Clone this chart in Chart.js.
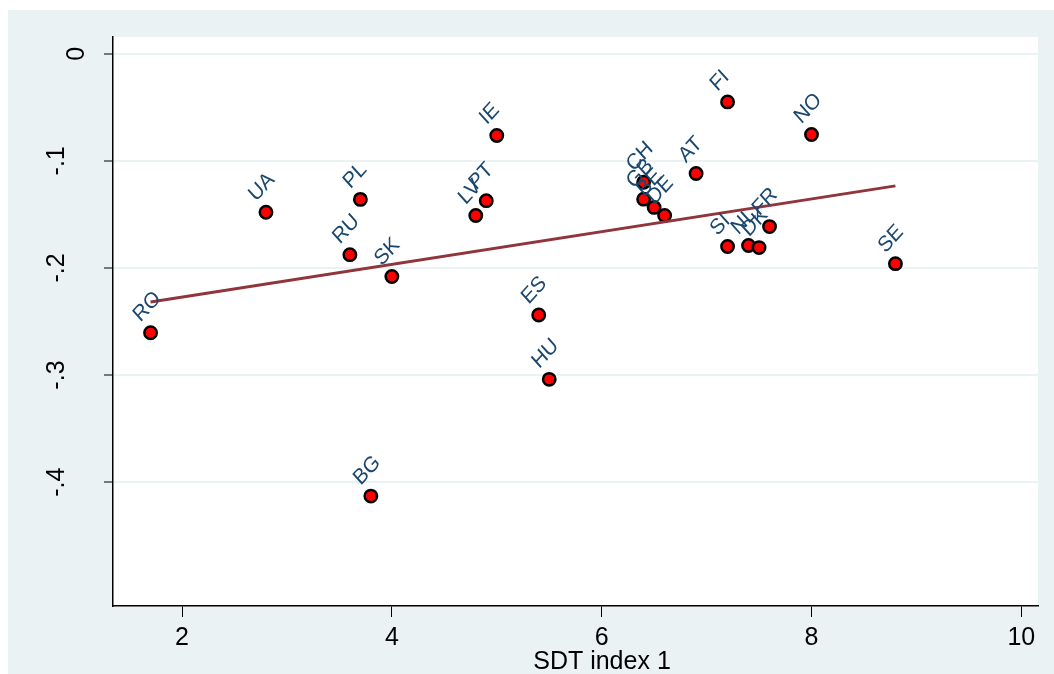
<!DOCTYPE html>
<html>
<head>
<meta charset="utf-8">
<script src="https://cdn.jsdelivr.net/npm/chart.js@4"></script>
<style>html,body{margin:0;padding:0;background:#fff;}canvas{display:block;}</style>
</head>
<body>
<canvas id="c" width="1054" height="674"></canvas>
<script>
const countries = ['RO','UA','PL','RU','SK','BG','LV','PT','IE','ES','HU','CH','GB','BE','DE','AT','FI','NO','SI','NL','DK','FR','SE'];
const sdtIndex = [1.7,2.8,3.7,3.6,4.0,3.8,4.8,4.9,5.0,5.4,5.5,6.4,6.4,6.5,6.6,6.9,7.2,8.0,7.2,7.4,7.5,7.6,8.8];
const outcome = [-0.2605,-0.148,-0.136,-0.1876,-0.208,-0.413,-0.151,-0.1372,-0.0764,-0.244,-0.304,-0.120,-0.1358,-0.1435,-0.151,-0.1119,-0.045,-0.0754,-0.180,-0.179,-0.181,-0.1614,-0.196];
const fitX = [1.7, 8.8];
const fitY = [-0.2318, -0.1234];
const xTicks = [2,4,6,8,10];
const yTicks = [0,-0.1,-0.2,-0.3,-0.4];
const yTickLabels = ['0','-.1','-.2','-.3','-.4'];
const xTitle = 'SDT index 1';

const NAVY = '#1a476f';
const BG = '#EAF2F3';

const deco = {
  id: 'deco',
  beforeDraw(chart) {
    const ctx = chart.ctx, a = chart.chartArea;
    ctx.save();
    ctx.fillStyle = '#fff';
    ctx.fillRect(0, 0, chart.width, chart.height);
    ctx.fillStyle = BG;
    ctx.fillRect(8, 10, chart.width - 8, chart.height - 10);
    ctx.fillStyle = '#fff';
    ctx.fillRect(a.left, a.top, a.right - a.left, a.bottom - a.top);
    ctx.restore();
  },
  afterDraw(chart) {
    const ctx = chart.ctx, xs = chart.scales.x, ys = chart.scales.y;
    ctx.save();
    ctx.fillStyle = '#000';
    ctx.font = '25px "Liberation Sans", Arial, sans-serif';
    ctx.textAlign = 'center';
    ctx.textBaseline = 'middle';
    xTicks.forEach(v => ctx.fillText(String(v), xs.getPixelForValue(v), 638));
    yTicks.forEach((v, i) => {
      ctx.save();
      ctx.textBaseline = 'alphabetic';
      const bx = yTickLabels[i] === '0' ? 84 : 64;
      ctx.translate(bx, ys.getPixelForValue(v));
      ctx.rotate(-Math.PI / 2);
      ctx.fillText(yTickLabels[i], 0, 0);
      ctx.restore();
    });
    ctx.fillText(xTitle, 602, 662);
    // point labels
    ctx.fillStyle = NAVY;
    ctx.font = '22px "Liberation Sans", Arial, sans-serif';
    ctx.textAlign = 'left';
    ctx.textBaseline = 'alphabetic';
    countries.forEach((c, i) => {
      const px = xs.getPixelForValue(sdtIndex[i]);
      const py = ys.getPixelForValue(outcome[i]);
      ctx.save();
      ctx.translate(px - 10, py - 10);
      ctx.scale(0.9, 1);
      ctx.rotate(-Math.PI / 4);
      ctx.fillText(c, 0, 0);
      ctx.restore();
    });
    ctx.restore();
  }
};

new Chart(document.getElementById('c'), {
  type: 'scatter',
  data: {
    datasets: [
      {
        type: 'scatter',
        data: sdtIndex.map((x, i) => ({x: x, y: outcome[i]})),
        pointRadius: 6.2,
        pointBorderWidth: 2.5,
        backgroundColor: '#FF0000',
        borderColor: '#000',
        order: 2
      },
      {
        type: 'line',
        data: fitX.map((x, i) => ({x: x, y: fitY[i]})),
        borderColor: '#90353B',
        borderWidth: 3,
        pointRadius: 0,
        fill: false,
        order: 1
      }
    ]
  },
  options: {
    responsive: false,
    animation: false,
    layout: {padding: {top: 37, right: 16, left: 0, bottom: 0}},
    plugins: {legend: {display: false}, tooltip: {enabled: false}},
    scales: {
      x: {
        type: 'linear',
        min: 1.342, max: 10.159,
        afterBuildTicks: s => { s.ticks = xTicks.map(v => ({value: v})); },
        afterFit: s => { s.height = 68; },
        ticks: {display: false},
        grid: {drawOnChartArea: false, drawTicks: true, tickLength: 11, tickColor: '#000', tickWidth: 1},
        border: {color: '#000', width: 1.5}
      },
      y: {
        type: 'linear',
        min: -0.5156, max: 0.0156,
        afterBuildTicks: s => { s.ticks = yTicks.map(v => ({value: v})); },
        afterFit: s => { s.width = 113; },
        ticks: {display: false},
        grid: {color: BG, lineWidth: 2, drawTicks: true, tickLength: 9, tickColor: '#000', tickWidth: 1},
        border: {color: '#000', width: 1.5}
      }
    }
  },
  plugins: [deco]
});
</script>
</body>
</html>
